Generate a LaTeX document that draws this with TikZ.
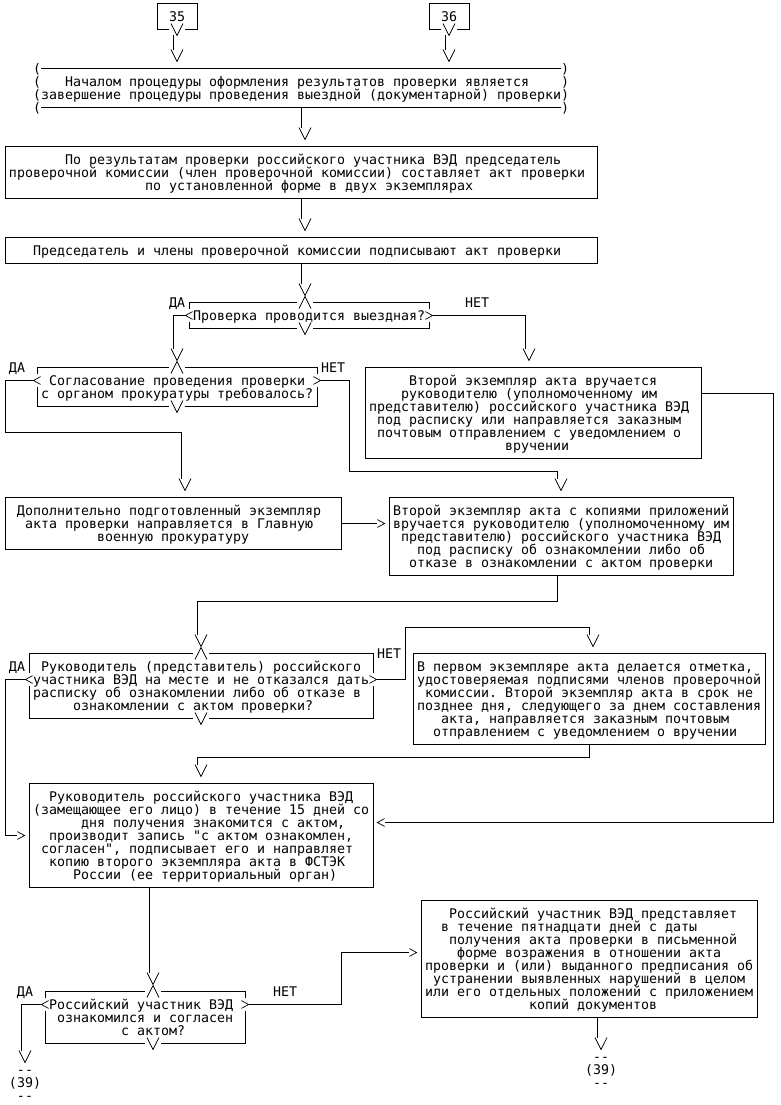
\documentclass[tikz,border=0pt]{standalone}
\usepackage{fontspec}
\setmonofont{DejaVu Sans Mono}
\newcommand\mono{\ttfamily\fontsize{13.29pt}{13pt}\selectfont}
\tikzset{
  ln/.style={line width=0.8pt},
  vln/.style={line width=0.7pt},
  txt/.style={anchor=base west, inner sep=0pt, outer sep=0pt, font=\mono},
  boxst/.style={draw, line width=0.8pt, inner sep=0pt, outer sep=0pt},
}
% text line: name, column, row, text
\newcommand\tline[4]{\node[txt] (#1) at ({#2-0.5},{#3+0.4}) {#4};}
% arrow head V occupying cells #1,#1+1 of row #2
\newcommand\varr[2]{\draw[vln] ({#1-0.25},{#2-0.46}) -- ({#1+0.5},{#2+0.46}) -- ({#1+1.25},{#2-0.46});}
\newcommand\lam[2]{\draw[vln] ({#1-0.25},{#2+0.46}) -- ({#1+0.5},{#2-0.46}) -- ({#1+1.25},{#2+0.46});}
\newcommand\chl[2]{\draw[vln] ({#1+0.45},{#2-0.3}) -- ({#1-0.45},{#2}) -- ({#1+0.45},{#2+0.3});}
\newcommand\chr[2]{\draw[vln] ({#1-0.45},{#2-0.3}) -- ({#1+0.45},{#2}) -- ({#1-0.45},{#2+0.3});}
% box: name, c1, r1, c2, r2
\newcommand\mybox[5]{\node[boxst, minimum width={8*((#4)-(#2))}, minimum height={13*((#5)-(#3))}, anchor=north west] (#1) at (#2,#3) {};}
% decision: cL, cR, rTop, rBottom, rArrows, cX
\newcommand\mydec[6]{%
  \draw[ln] (#1,{#5-0.5}) -- (#1,#3) -- ({#6-0.5},#3);
  \draw[ln] ({#6+1.5},#3) -- (#2,#3) -- (#2,{#5-0.5});
  \draw[ln] (#1,{#5+0.5}) -- (#1,#4) -- ({#6-0.5},#4);
  \draw[ln] ({#6+1.5},#4) -- (#2,#4) -- (#2,{#5+0.5});
  \lam{#6}{#3}\varr{#6}{#4}\chl{#1}{#5}\chr{#2}{#5}}
\begin{document}
\begin{tikzpicture}[x=8pt,y=-13pt]
\fill[white] (-0.625,-0.26923) rectangle (97,84.73077);
\useasboundingbox (-0.625,-0.26923) rectangle (97,84.73077);

% boxes 35 and 36
\draw[ln] (20.5,2) -- (19,2) -- (19,0) -- (24,0) -- (24,2) -- (22.5,2);
\varr{21}{2}
\tline{t35}{21}{1}{35}
\draw[ln] (21,2.46) -- (21,3.54);
\varr{21}{4}
\draw[ln] (54.5,2) -- (53,2) -- (53,0) -- (58,0) -- (58,2) -- (56.5,2);
\varr{55}{2}
\tline{t36}{55}{1}{36}
\draw[ln] (55,2.46) -- (55,3.54);
\varr{55}{4}

% start (bracket) box
\foreach \r in {5,6,7,8}{
  \node[txt] (pl\r) at (3.5,{\r+0.4}) {(};
  \node[txt] (pr\r) at (69.5,{\r+0.4}) {)};
}
\draw[ln] (4.5,5) -- (69.5,5);
\draw[ln] (4.5,8) -- (69.5,8);
\tline{b0a}{8}{6}{Началом процедуры оформления результатов проверки является}
\tline{b0b}{5}{7}{завершение процедуры проведения выездной (документарной) проверки}
\draw[ln] (37,8) -- (37,9.54);
\varr{37}{10}

% B1
\mybox{B1}{0}{11}{74}{15}
\tline{b1a}{8}{12}{По результатам проверки российского участника ВЭД председатель}
\tline{b1b}{1}{13}{проверочной комиссии (член проверочной комиссии) составляет акт проверки}
\tline{b1c}{18}{14}{по установленной форме в двух экземплярах}
\draw[ln] (B1.south) -- (37,16.54);
\varr{37}{17}

% B2
\mybox{B2}{0}{18}{74}{20}
\tline{b2a}{4}{19}{Председатель и члены проверочной комиссии подписывают акт проверки}
\draw[ln] (B2.south) -- (37,21.54);
\varr{37}{22}

% D1
\mydec{23}{53}{23}{25}{24}{37}
\tline{d1a}{24}{24}{Проверка проводится выездная?}
\tline{da1}{21}{23}{ДА}
\tline{net1}{58}{23}{НЕТ}
\draw[ln] (22.5,24) -- (21,24) -- (21,26.54);
\varr{21}{27}
\draw[ln] (53.5,24) -- (65,24) -- (65,26.54);
\varr{65}{27}

% D2
\mydec{4}{39}{28}{31}{29}{21}
\tline{d2a}{6}{29}{Согласование проведения проверки}
\tline{d2b}{5}{30}{с органом прокуратуры требовалось?}
\tline{da2}{1}{28}{ДА}
\tline{net2}{40}{28}{НЕТ}
\draw[ln] (3.5,29) -- (0,29) -- (0,33) -- (22,33) -- (22,36.54);
\varr{22}{37}
\draw[ln] (39.5,29) -- (43,29) -- (43,36) -- (69,36) -- (69,36.54);
\varr{69}{37}

% B3
\mybox{B3}{45}{28}{87}{35}
\tline{b3a}{51}{29}{Второй экземпляр акта вручается}
\tline{b3b}{50}{30}{руководителю (уполномоченному им}
\tline{b3c}{46}{31}{представителю) российского участника ВЭД}
\tline{b3d}{47}{32}{под расписку или направляется заказным}
\tline{b3e}{47}{33}{почтовым отправлением с уведомлением о}
\tline{b3f}{63}{34}{вручении}

% B4
\mybox{B4}{0}{38}{42}{42}
\tline{b4a}{2}{39}{Дополнительно подготовленный экземпляр}
\tline{b4b}{3}{40}{акта проверки направляется в Главную}
\tline{b4c}{12}{41}{военную прокуратуру}

% B5
\mybox{B5}{48}{38}{91}{44}
\tline{b5a}{49}{39}{Второй экземпляр акта с копиями приложений}
\tline{b5b}{49}{40}{вручается руководителю (уполномоченному им}
\tline{b5c}{50}{41}{представителю) российского участника ВЭД}
\tline{b5d}{52}{42}{под расписку об ознакомлении либо об}
\tline{b5e}{51}{43}{отказе в ознакомлении с актом проверки}
\draw[ln] (B4.east |- 0,40) -- (46.5,40);
\chr{47}{40}
\draw[ln] (69,44) -- (69,46) -- (24,46) -- (24,48.54);
\varr{24}{49}

% D3
\mydec{3}{46}{50}{55}{52}{24}
\tline{d3a}{5}{51}{Руководитель (представитель) российского}
\tline{d3b}{4}{52}{участника ВЭД на месте и не отказался дать}
\tline{d3c}{4}{53}{расписку об ознакомлении либо об отказе в}
\tline{d3d}{9}{54}{ознакомлении с актом проверки?}
\tline{da3}{1}{51}{ДА}
\tline{net3}{47}{50}{НЕТ}
\draw[ln] (2.5,52) -- (0,52) -- (0,64) -- (1.5,64);
\chr{2}{64}
\draw[ln] (46.5,52) -- (50,52) -- (50,48) -- (73,48) -- (73,48.54);
\varr{73}{49}

% B6
\mybox{B6}{51}{50}{95}{57}
\tline{b6a}{52}{51}{В первом экземпляре акта делается отметка,}
\tline{b6b}{52}{52}{удостоверяемая подписями членов проверочной}
\tline{b6c}{53}{53}{комиссии. Второй экземпляр акта в срок не}
\tline{b6d}{52}{54}{позднее дня, следующего за днем составления}
\tline{b6e}{55}{55}{акта, направляется заказным почтовым}
\tline{b6f}{54}{56}{отправлением с уведомлением о вручении}
\draw[ln] (73,57) -- (73,58) -- (24,58) -- (24,58.54);
\varr{24}{59}

% B3 long connector to B7
\draw[ln] (B3.east |- 0,30) -- (96,30) -- (96,63) -- (47.5,63);
\chl{47}{63}

% B7
\mybox{B7}{3}{60}{46}{68}
\tline{b7a}{6}{61}{Руководитель российского участника ВЭД}
\tline{b7b}{4}{62}{(замещающее его лицо) в течение 15 дней со}
\tline{b7c}{10}{63}{дня получения знакомится с актом,}
\tline{b7d}{6}{64}{производит запись "с актом ознакомлен,}
\tline{b7e}{5}{65}{согласен", подписывает его и направляет}
\tline{b7f}{6}{66}{копию второго экземпляра акта в ФСТЭК}
\tline{b7g}{9}{67}{России (ее территориальный орган)}
\draw[ln] (18,68) -- (18,74.54);
\varr{18}{75}

% D4
\mydec{5}{30}{76}{80}{77}{18}
\tline{d4a}{6}{77}{Российский участник ВЭД}
\tline{d4b}{7}{78}{ознакомился и согласен}
\tline{d4c}{15}{79}{с актом?}
\tline{da4}{2}{76}{ДА}
\tline{net4}{34}{76}{НЕТ}
\draw[ln] (4.5,77) -- (2,77) -- (2,80.54);
\varr{2}{81}
\tline{e1a}{2}{82}{-{}-}
\tline{e1b}{1}{83}{(39)}
\tline{e1c}{2}{84}{-{}-}
\draw[ln] (30.5,77) -- (42,77) -- (42,73) -- (50.5,73);
\chr{51}{73}

% B8
\mybox{B8}{52}{69}{94}{78}
\tline{b8a}{56}{70}{Российский участник ВЭД представляет}
\tline{b8b}{55}{71}{в течение пятнадцати дней с даты}
\tline{b8c}{56}{72}{получения акта проверки в письменной}
\tline{b8d}{57}{73}{форме возражения в отношении акта}
\tline{b8e}{53}{74}{проверки и (или) выданного предписания об}
\tline{b8f}{54}{75}{устранении выявленных нарушений в целом}
\tline{b8g}{53}{76}{или его отдельных положений с приложением}
\tline{b8h}{66}{77}{копий документов}
\draw[ln] (74,78) -- (74,79.54);
\varr{74}{80}
\tline{e2a}{74}{81}{-{}-}
\tline{e2b}{73}{82}{(39)}
\tline{e2c}{74}{83}{-{}-}
\end{tikzpicture}
\end{document}
